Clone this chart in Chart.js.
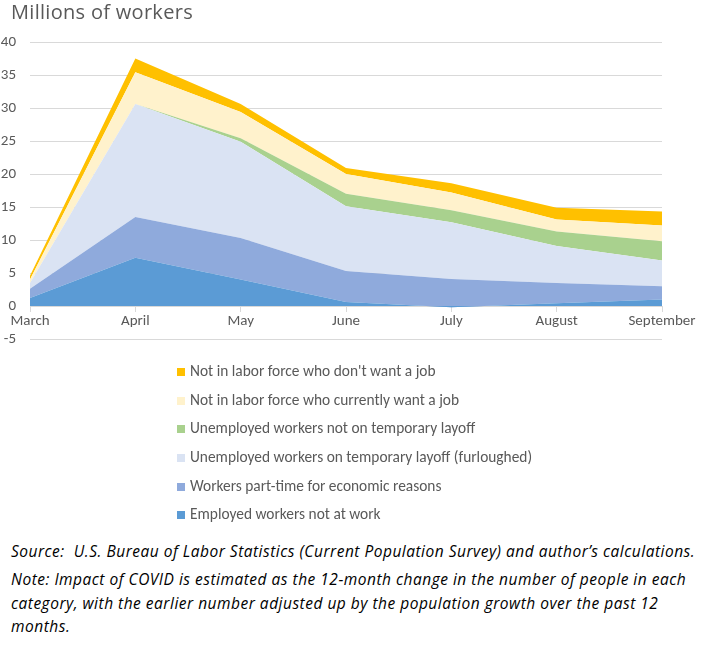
<!DOCTYPE html>
<html lang="en">
<head>
    <meta charset="UTF-8">
    <title>Millions of workers</title>
    <script src="https://cdn.jsdelivr.net/npm/chart.js"></script>
    <style>
        body {
            margin: 0;
            background: #fff;
            font-family: Carlito, Calibri, Lato, sans-serif;
            color: #595959;
        }
        #page { position: relative; width: 709px; height: 645px; overflow: hidden; }
        #title { position: absolute; left: 11px; top: -2px; font-size: 20px; letter-spacing: 0.3px; font-family: 'Open Sans', sans-serif; }
        #chartBox { position: absolute; left: 0; top: 0; width: 709px; height: 362px; }
        #legend { position: absolute; left: 177px; top: 357px; font-size: 15.4px; }
        .row { height: 28.7px; line-height: 28.7px; white-space: nowrap; }
        .box { display: inline-block; width: 8px; height: 8px; margin-right: 5px; vertical-align: 0px; }
        #notes { position: absolute; left: 11px; top: 539px; width: 700px; font-style: italic; color: #000;
                 font-family: 'Open Sans', sans-serif; font-size: 15.5px; letter-spacing: 0.5px; white-space: nowrap; }
        #notes p { margin: 0; line-height: 23.5px; }
        #notes p.src { margin-bottom: 5px; line-height: 24px; }
    </style>
</head>
<body>
<div id="page">
    <div id="chartBox"><canvas id="chart" width="709" height="362"></canvas></div>
    <div id="title">Millions of workers</div>
    <div id="legend"></div>
    <div id="notes">
        <p class="src">Source:&nbsp; U.S. Bureau of Labor Statistics (Current Population Survey) and author’s calculations.</p>
        <p>Note: Impact of COVID is estimated as the 12-month change in the number of people in each<br>category, with the earlier number adjusted up by the population growth over the past 12<br>months.</p>
    </div>
</div>

<script>
    // months on the x axis
    var months = ['March', 'April', 'May', 'June', 'July', 'August', 'September'];

    // series, bottom of the stack first (millions of workers)
    var employedNotAtWork = [1.2, 7.3, 4.0, 0.6, -0.2, 0.4, 1.0];
    var partTimeEconomic  = [1.4, 6.2, 6.3, 4.7, 4.3, 3.1, 2.0];
    var furloughed        = [0.9, 17.1, 14.6, 9.8, 8.6, 5.6, 3.9];
    var unemployedNotTemp = [0.0, 0.0, 0.5, 1.9, 1.8, 2.2, 2.9];
    var nilfWantJob       = [0.5, 4.8, 4.0, 3.0, 2.7, 1.8, 2.4];
    var nilfNoJob         = [0.6, 2.1, 1.2, 0.9, 1.4, 1.8, 2.1];

    var seriesNames = [
        'Employed workers not at work',
        'Workers part-time for economic reasons',
        'Unemployed workers on temporary layoff (furloughed)',
        'Unemployed workers not on temporary layoff',
        'Not in labor force who currently want a job',
        "Not in labor force who don't want a job"
    ];
    var seriesValues = [employedNotAtWork, partTimeEconomic, furloughed, unemployedNotTemp, nilfWantJob, nilfNoJob];
    var seriesColors = ['#5B9BD5', '#8FAADC', '#DAE3F3', '#A9D18E', '#FFF2CC', '#FFC000'];

    // y axis ticks
    var yMin = -5, yMax = 40, yStep = 5;

    var datasets = seriesNames.map(function (name, i) {
        return {
            label: name,
            data: seriesValues[i],
            backgroundColor: seriesColors[i],
            borderColor: seriesColors[i],
            borderWidth: 0,
            pointRadius: 0,
            tension: 0,
            fill: i === 0 ? 'origin' : '-1'
        };
    });

    var font = { family: 'Carlito, Calibri, Lato, sans-serif', size: 15 };

    new Chart(document.getElementById('chart').getContext('2d'), {
        type: 'line',
        data: { labels: months, datasets: datasets },
        options: {
            responsive: false,
            animation: false,
            layout: { padding: { top: 42, right: 47, bottom: 0, left: 0 } },
            scales: {
                x: {
                    position: { y: 0 },
                    offset: false,
                    grid: { drawOnChartArea: false, drawTicks: true, tickLength: 5, color: '#d9d9d9' },
                    border: { display: true, color: '#d9d9d9' },
                    ticks: { color: '#595959', font: font, padding: 1, maxRotation: 0 }
                },
                y: {
                    stacked: 'single',
                    min: yMin,
                    max: yMax,
                    ticks: { stepSize: yStep, color: '#595959', font: font, padding: 14 },
                    grid: { color: '#d9d9d9', drawTicks: false },
                    border: { display: false },
                    afterFit: function (scale) { scale.width = 30; }
                }
            },
            plugins: {
                legend: { display: false },
                tooltip: { enabled: false }
            }
        }
    });

    // legend listed top of stack first
    var legend = document.getElementById('legend');
    for (var i = seriesNames.length - 1; i >= 0; i--) {
        var row = document.createElement('div');
        row.className = 'row';
        var box = document.createElement('span');
        box.className = 'box';
        box.style.background = seriesColors[i];
        row.appendChild(box);
        row.appendChild(document.createTextNode(seriesNames[i]));
        legend.appendChild(row);
    }
</script>
</body>
</html>
